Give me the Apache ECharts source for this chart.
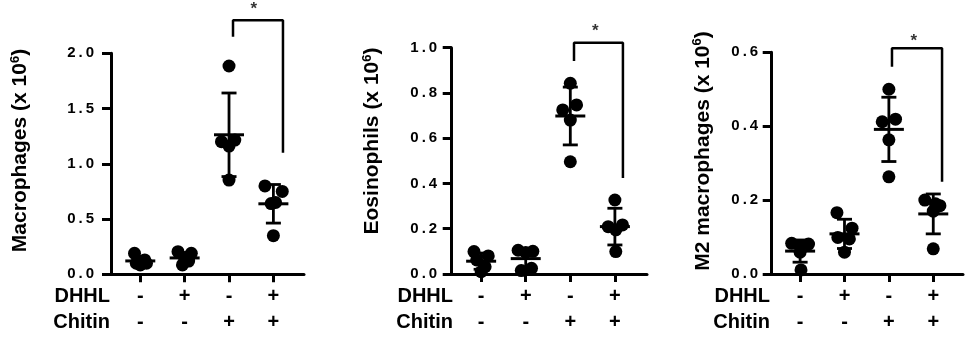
<!DOCTYPE html>
<html><head><meta charset="utf-8">
<script src="https://cdn.jsdelivr.net/npm/echarts@6/dist/echarts.min.js"></script>
<style>html,body{margin:0;padding:0;background:#fff}#c{width:965px;height:337px}</style>
</head><body><div id="c"></div>
<script>
// ---- data ----
const groups = [1, 2, 3, 4];
const dhhl = ['-', '+', '-', '+'];
const chitin = ['-', '-', '+', '+'];
const rowLabels = ['DHHL', 'Chitin'];
const yTitles = ['Macrophages (x 10', 'Eosinophils (x 10', 'M2 macrophages (x 10'];
const yMax = [2.0, 1.0, 0.6];
const yStep = [0.5, 0.2, 0.2];

const macrophages = [[0.19, 0.13, 0.10, 0.10, 0.085], [0.205, 0.19, 0.14, 0.12, 0.085], [1.885, 1.215, 1.20, 1.16, 0.853], [0.80, 0.75, 0.65, 0.64, 0.35]];
const macrophagesJitter = [[-0.13, 0.10, 0.14, -0.09, 0], [-0.15, 0.15, 0, 0.09, -0.05], [0, 0.13, -0.17, 0, 0], [-0.19, 0.2, 0.05, -0.05, 0]];

const eosinophils = [[0.099, 0.08, 0.062, 0.032, 0.01], [0.105, 0.10, 0.095, 0.025, 0.015], [0.843, 0.747, 0.725, 0.68, 0.496], [0.327, 0.217, 0.209, 0.195, 0.099]];
const eosinophilsJitter = [[-0.16, 0.16, -0.1, 0.09, 0], [-0.17, 0.16, 0, 0.13, -0.1], [0, 0.14, -0.17, 0, 0], [0, 0.17, -0.15, 0.02, 0.02]];

const m2 = [[0.083, 0.081, 0.076, 0.059, 0.011], [0.166, 0.124, 0.099, 0.095, 0.059], [0.50, 0.419, 0.412, 0.363, 0.263], [0.20, 0.19, 0.185, 0.17, 0.068]];
const m2Jitter = [[-0.19, 0.19, 0, 0, 0.02], [-0.17, 0.17, -0.15, 0.11, 0], [0, 0.15, -0.15, 0, 0], [-0.19, 0.05, 0.15, 0, 0]];

// significance brackets: [leftX, rightX], [leftBottomY, topY, rightBottomY], star [x, y]
const bracketX = [[3.09, 4.216], [3.083, 4.18], [3.07, 4.198]];
const bracketY = [[2.15, 2.30, 1.10], [0.941, 1.022, 0.424], [0.561, 0.611, 0.25]];
const starPos = [[3.56, 2.396], [3.56, 1.071], [3.56, 0.631]];

// ---- layout ----
const FONT = "'Liberation Sans', Arial, Helvetica, sans-serif";
const panels = [
  {vals: macrophages, jit: macrophagesJitter, grid: {left: 111, top: 53.3, width: 193, height: 221}, xmin: 0.34, xmax: 4.69, lblMargin: 17, titleX: 20.5, titleY: 150.5, rowX: 110},
  {vals: eosinophils, jit: eosinophilsJitter, grid: {left: 451.7, top: 47.7, width: 195.3, height: 226.3}, xmin: 0.34, xmax: 4.72, lblMargin: 14.5, titleX: 372.5, titleY: 141, rowX: 453},
  {vals: m2, jit: m2Jitter, grid: {left: 771.7, top: 52.3, width: 191.3, height: 221.7}, xmin: 0.36, xmax: 4.67, lblMargin: 13.5, titleX: 703, titleY: 151, rowX: 770}
];

function meanSd(a) {
  const m = a.reduce((s, v) => s + v, 0) / a.length;
  const sd = Math.sqrt(a.reduce((s, v) => s + (v - m) * (v - m), 0) / (a.length - 1));
  return [m, sd];
}

function errRender(params, api) {
  const x = api.value(0), m = api.value(1), lo = api.value(2), hi = api.value(3);
  const c = api.coord([x, m]), pl = api.coord([x, lo]), ph = api.coord([x, hi]);
  const s1 = {stroke: '#000', lineWidth: 3};
  const s2 = {stroke: '#000', lineWidth: 2.8};
  return {type: 'group', children: [
    {type: 'line', shape: {x1: c[0] - 15, y1: c[1], x2: c[0] + 15, y2: c[1]}, style: s1},
    {type: 'line', shape: {x1: c[0], y1: ph[1], x2: c[0], y2: pl[1]}, style: s2},
    {type: 'line', shape: {x1: c[0] - 7.5, y1: ph[1], x2: c[0] + 7.5, y2: ph[1]}, style: s2},
    {type: 'line', shape: {x1: c[0] - 7.5, y1: pl[1], x2: c[0] + 7.5, y2: pl[1]}, style: s2}
  ]};
}

const grid = [], xAxis = [], yAxis = [], series = [], graphic = [];
panels.forEach((p, i) => {
  grid.push(p.grid);
  xAxis.push({
    type: 'value', gridIndex: i, min: p.xmin, max: p.xmax,
    splitLine: {show: false},
    axisLine: {show: true, onZero: false, lineStyle: {color: '#000', width: 3}},
    axisTick: {show: true, customValues: groups, length: 8, lineStyle: {color: '#000', width: 3}},
    axisLabel: {
      show: true, customValues: groups, margin: 9, color: '#000',
      fontFamily: FONT, fontWeight: 'bold', fontSize: 20, lineHeight: 26,
      formatter: v => dhhl[groups.indexOf(Math.round(v))] + '\n' + chitin[groups.indexOf(Math.round(v))]
    }
  });
  yAxis.push({
    type: 'value', gridIndex: i, min: 0, max: yMax[i], interval: yStep[i],
    splitLine: {show: false},
    axisLine: {show: true, lineStyle: {color: '#000', width: 3}},
    axisTick: {show: true, length: 9, lineStyle: {color: '#000', width: 3}},
    axisLabel: {
      margin: p.lblMargin, color: '#000', fontFamily: FONT, fontWeight: 'bold', fontSize: 15,
      formatter: v => v.toFixed(1).split('').join('\u2009')
    }
  });
  const pts = [];
  const stats = [];
  p.vals.forEach((g, gi) => {
    g.forEach((v, k) => pts.push([groups[gi] + p.jit[gi][k], v]));
    const [m, sd] = meanSd(g);
    stats.push([groups[gi], m, m - sd, m + sd]);
  });
  series.push({
    type: 'scatter', xAxisIndex: i, yAxisIndex: i, data: pts,
    symbol: 'circle', symbolSize: 13, itemStyle: {color: '#000', opacity: 1}, silent: true, z: 3
  });
  series.push({
    type: 'custom', xAxisIndex: i, yAxisIndex: i, data: stats, renderItem: errRender,
    encode: {x: 0, y: 1}, silent: true, z: 4
  });
  const bx = bracketX[i], by = bracketY[i];
  series.push({
    type: 'line', xAxisIndex: i, yAxisIndex: i, clip: false, symbol: 'none', silent: true,
    data: [[bx[0], by[0]], [bx[0], by[1]], [bx[1], by[1]], [bx[1], by[2]]],
    lineStyle: {color: '#000', width: 2.5}, z: 5
  });
  series.push({
    type: 'scatter', xAxisIndex: i, yAxisIndex: i, clip: false, silent: true,
    data: [starPos[i]], symbolSize: 0,
    label: {show: true, position: 'inside', formatter: '*', color: '#000', fontFamily: FONT, fontWeight: 'bold', fontSize: 17}
  });
  graphic.push({
    type: 'text', x: p.titleX, y: p.titleY, rotation: Math.PI / 2, silent: true,
    style: {
      text: '{a|' + yTitles[i] + '}{s|6}{a|)}',
      align: 'center', verticalAlign: 'middle', textAlign: 'center', textVerticalAlign: 'middle',
      rich: {
        a: {fontFamily: FONT, fontWeight: 'bold', fontSize: 21, fill: '#000', lineHeight: 24},
        s: {fontFamily: FONT, fontWeight: 'bold', fontSize: 13, fill: '#000', verticalAlign: 'top', lineHeight: 24}
      }
    }
  });
  rowLabels.forEach((t, r) => {
    graphic.push({
      type: 'text', x: p.rowX, y: 296 + r * 26.5, silent: true,
      style: {text: t, font: 'bold 20px ' + FONT, fill: '#000', align: 'right', verticalAlign: 'middle', textAlign: 'right', textVerticalAlign: 'middle'}
    });
  });
});

const chart = echarts.init(document.getElementById('c'));
chart.setOption({backgroundColor: '#fff', animation: false, grid, xAxis, yAxis, series, graphic});
</script>
</body></html>
